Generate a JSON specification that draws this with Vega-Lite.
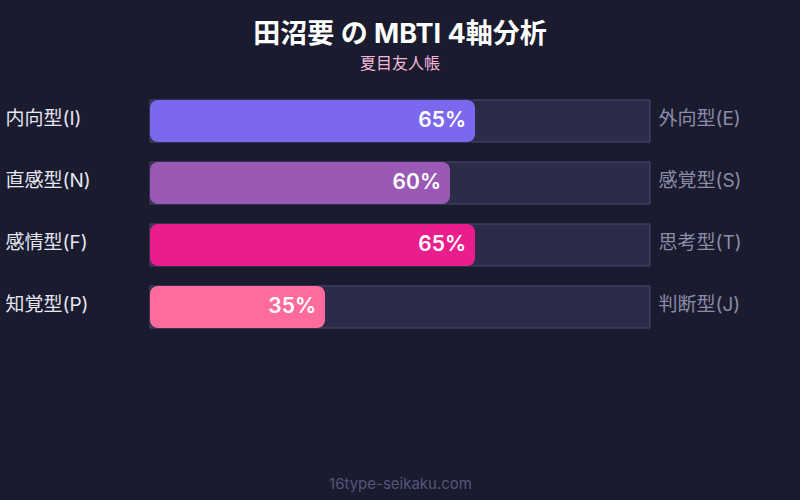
{
  "$schema": "https://vega.github.io/schema/vega-lite/v6.json",
  "description": "MBTI 4-axis bar chart",
  "width": 500,
  "height": 360,
  "autosize": {"type": "none"},
  "padding": {"left": 150, "right": 150, "top": 90, "bottom": 50},
  "background": "#1a1b2e",
  "title": {
    "text": "田沼要 の MBTI 4軸分析",
    "subtitle": "夏目友人帳",
    "anchor": "middle",
    "frame": "group",
    "offset": 17,
    "fontSize": 27,
    "fontWeight": "bold",
    "color": "#ffffff",
    "subtitleFontSize": 16,
    "subtitleColor": "#f5b8d8",
    "subtitlePadding": 7
  },
  "data": {
    "values": [
      {"left": "内向型(I)", "right": "外向型(E)", "value": 0.65},
      {"left": "直感型(N)", "right": "感覚型(S)", "value": 0.60},
      {"left": "感情型(F)", "right": "思考型(T)", "value": 0.65},
      {"left": "知覚型(P)", "right": "判断型(J)", "value": 0.35}
    ]
  },
  "layer": [
    {
      "mark": {"type": "bar", "fill": "#2c2b4a", "stroke": "#4a4870", "strokeWidth": 1},
      "encoding": {
        "y": {
          "field": "right", "type": "nominal", "sort": null,
          "scale": {"range": [0, 248], "paddingInner": 0.3226, "paddingOuter": 0.1613},
          "axis": {"orient": "right", "title": null, "domain": false, "ticks": false, "labelPadding": 8, "labelFontSize": 19, "labelColor": "#8c8ca8", "labelAlign": "left", "labelOffset": -2}
        },
        "x": {"datum": 0, "type": "quantitative"},
        "x2": {"datum": 1}
      }
    },
    {
      "mark": {"type": "bar", "cornerRadius": 8},
      "encoding": {
        "y": {
          "field": "left", "type": "nominal", "sort": null,
          "scale": {"range": [0, 248], "paddingInner": 0.3226, "paddingOuter": 0.1613},
          "axis": {"orient": "left", "title": null, "domain": false, "ticks": false, "labelPadding": 145, "labelFontSize": 19, "labelColor": "#e6e6f2", "labelAlign": "left", "labelOffset": -2}
        },
        "x": {
          "field": "value", "type": "quantitative",
          "scale": {"domain": [0, 1]},
          "axis": {"orient": "bottom", "title": "16type-seikaku.com", "labels": false, "ticks": false, "domain": false, "grid": false, "titlePadding": 26, "titleFontSize": 15, "titleFontWeight": "normal", "titleColor": "#55557a"}
        },
        "x2": {"datum": 0},
        "color": {
          "field": "left", "type": "nominal", "legend": null,
          "scale": {
            "domain": ["内向型(I)", "直感型(N)", "感情型(F)", "知覚型(P)"],
            "range": ["#7b68ee", "#9b59b6", "#e91e8c", "#ff6b9d"]
          }
        }
      }
    },
    {
      "mark": {"type": "text", "align": "right", "dx": -9, "fontSize": 21, "fontWeight": 600, "color": "#ffffff"},
      "encoding": {
        "y": {
          "field": "left", "type": "nominal", "sort": null,
          "scale": {"range": [0, 248], "paddingInner": 0.3226, "paddingOuter": 0.1613},
          "axis": null
        },
        "x": {"field": "value", "type": "quantitative"},
        "text": {"field": "value", "type": "quantitative", "format": ".0%"}
      }
    }
  ],
  "resolve": {"scale": {"y": "independent", "color": "independent"}},
  "config": {
    "font": "Inter, Noto Sans CJK JP",
    "view": {"stroke": null},
    "axis": {"grid": false}
  }
}
